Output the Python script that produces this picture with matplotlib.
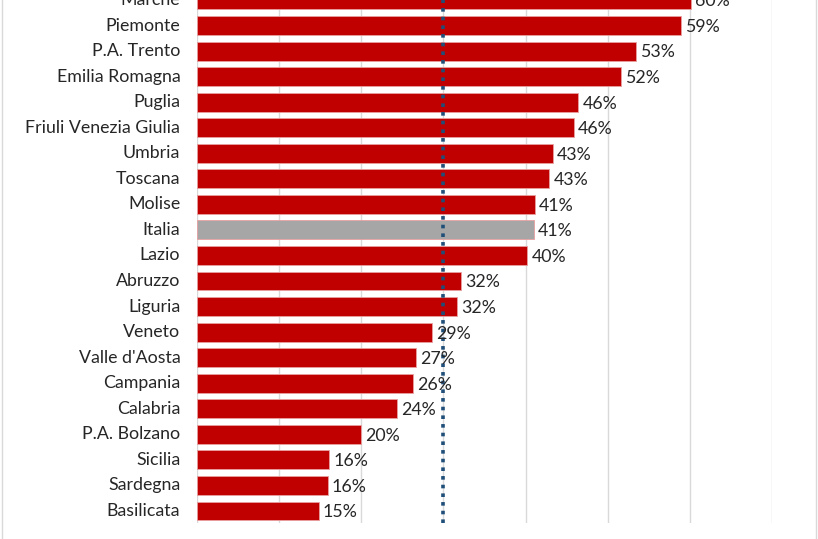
import matplotlib.pyplot as plt
from matplotlib.lines import Line2D

plt.rcParams['font.family'] = ['Lato', 'DejaVu Sans']

regions = ['Marche', 'Piemonte', 'P.A. Trento', 'Emilia Romagna', 'Puglia',
           'Friuli Venezia Giulia', 'Umbria', 'Toscana', 'Molise', 'Italia',
           'Lazio', 'Abruzzo', 'Liguria', 'Veneto', "Valle d'Aosta", 'Campania',
           'Calabria', 'P.A. Bolzano', 'Sicilia', 'Sardegna', 'Basilicata']
values = [60.1, 58.9, 53.4, 51.6, 46.4, 45.9, 43.3, 42.9, 41.1, 41.0,
          40.2, 32.1, 31.6, 28.6, 26.7, 26.3, 24.4, 20.0, 16.1, 15.9, 14.8]
target = 30

W, H = 818, 539
fig = plt.figure(figsize=(W / 100, H / 100), dpi=100)
# axes box in pixels: x 197..772 (0..70%), y top 0 .. bottom 523
ax = fig.add_axes([197 / W, 1 - 523 / H, (772 - 197) / W, 523 / H])

pos = list(range(len(regions)))
colors = ['#A6A6A6' if r == 'Italia' else '#C00000' for r in regions]
ax.barh(pos, values, height=0.74, color=colors, edgecolor='#E8A0A0', linewidth=0.6, zorder=2)

for p, v in zip(pos, values):
    ax.annotate(f'{round(v)}%', (v, p), xytext=(3, -1), textcoords='offset points',
                ha='left', va='center', fontsize=12.8, color='#262626',
                annotation_clip=False, zorder=4)

ax.axvline(target, color='#1F4E79', linestyle=(0, (1, 1.4)), linewidth=2.6, zorder=3)

ax.set_xlim(0, 70)
ax.set_ylim(20.47, 0.12)
ax.set_xticks(range(0, 71, 10))
ax.xaxis.grid(True, color='#D9D9D9', linewidth=1, zorder=0)
ax.set_axisbelow(True)
ax.tick_params(axis='x', length=0, labelbottom=False)
ax.set_yticks(pos)
ax.set_yticklabels(regions, fontsize=12.8, color='#262626', va='center')
ax.tick_params(axis='y', length=0, pad=12)
for s in ax.spines.values():
    s.set_visible(False)

fig.add_artist(Line2D([2 / W, 2 / W], [0, 1], color='#D9D9D9', linewidth=1))
fig.add_artist(Line2D([816 / W, 816 / W], [0, 1], color='#D9D9D9', linewidth=1))

fig.savefig('out.png', dpi=100)
